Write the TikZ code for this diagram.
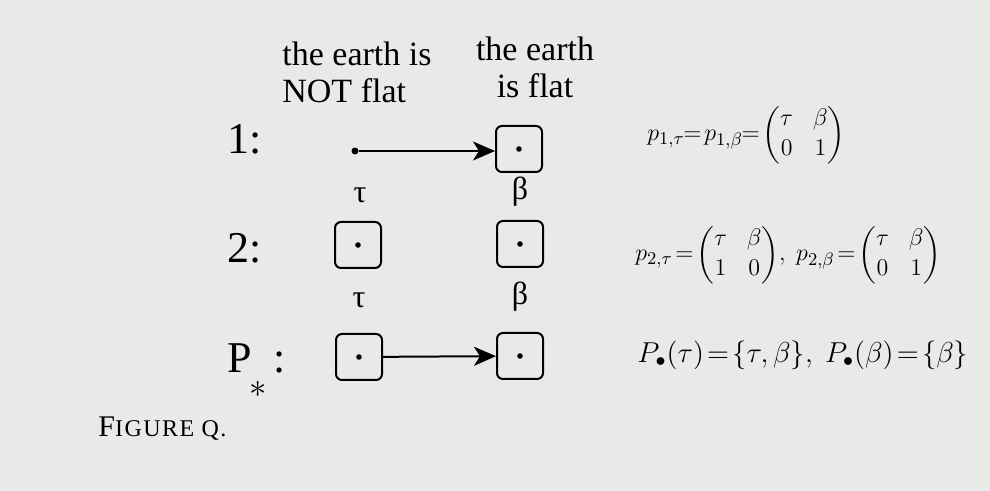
\documentclass[tikz,border=0pt]{standalone}
\usepackage{mathtools}
\usepackage{fontspec}
\setmainfont{Liberation Serif}
\usepackage{xcolor}
\usepackage{tikz}
\usetikzlibrary{arrows.meta}

\definecolor{pagegray}{RGB}{233,233,231}

\tikzset{
  state/.style={draw, line width=1pt, rounded corners=3pt, minimum size=23pt, inner sep=0pt},
  dot/.style={circle, fill, inner sep=0pt, minimum size=3.5pt},
  hdr/.style={font=\fontsize{17}{18.5}\selectfont, inner sep=0pt},
  rowlbl/.style={font=\fontsize{22}{24}\selectfont, inner sep=0pt, anchor=base west},
  lbl/.style={font=\fontsize{16}{18}\selectfont, inner sep=0pt, anchor=base},
  eqn/.style={font=\fontsize{13}{15}\selectfont, inner sep=0pt, anchor=west,
    execute at begin node={\thickmuskip=2mu\relax\medmuskip=2mu\relax}},
  arr/.style={-{Stealth[length=11pt,width=9.5pt,inset=3pt]}, line width=1pt}
}

\begin{document}
\begin{tikzpicture}[x=0.5pt,y=-0.5pt]
    \useasboundingbox[fill=pagegray] (0,0) rectangle (990,491);

    % column heads
    \node[hdr, align=left, anchor=north west] (headT) at (282,42) {the earth is\\NOT flat};
    \node[hdr, align=center, anchor=north] (headB) at (535,37) {the earth\\is flat};

    % row labels
    \node[rowlbl] (row1) at (227,154) {1:};
    \node[rowlbl] (row2) at (227,263) {2:};
    \node[rowlbl] (row3) at (227,372) {P\hspace{-1pt}\raisebox{-13pt}{\fontsize{16}{16}\selectfont$*$}\hspace{3pt}:};

    % states
    \node[dot] (t1) at (355,151) {};
    \node[state] (b1) at (519,149) {};
    \node[state] (t2) at (358,245) {};
    \node[state] (b2) at (520,244) {};
    \node[state] (t3) at (359,357) {};
    \node[state] (b3) at (520,356) {};
    \fill \foreach \s in {b1, t2, b2, t3, b3}{(\s) circle [radius=1.4pt]};

    \node[lbl] (tau2) at (360,203) {τ};
    \node[lbl] (beta2) at (520,200) {β};
    \node[lbl] (tau3) at (359,308) {τ};
    \node[lbl] (beta3) at (520,305) {β};

    \draw[arr] (t1) -- (b1.west |- t1);
    \draw[arr] (t3) -- (b3);

    % probabilities
    \node[eqn] (eq1) at (647,135) {$p_{1,\tau}\! = p_{1,\beta}\! = \begin{pmatrix}\tau & \beta\\ 0 & 1\end{pmatrix}$};
    \node[eqn] (eq2) at (635,255) {$p_{2,\tau} = \begin{pmatrix}\tau & \beta\\ 1 & 0\end{pmatrix}\!,\ p_{2,\beta} = \begin{pmatrix}\tau & \beta\\ 0 & 1\end{pmatrix}$};
    \node[eqn, font=\fontsize{14.5}{17}\selectfont] (eq3) at (637,355) {$P_{\bullet}(\tau) = \{\tau,\beta\},\ P_{\bullet}(\beta) = \{\beta\}$};

    \node[anchor=base west, inner sep=0pt] (cap) at (98,437) {{\fontsize{15}{17}\selectfont F}{\fontsize{12}{14}\selectfont\addfontfeatures{LetterSpace=6}IGURE Q.}};
\end{tikzpicture}
\end{document}
